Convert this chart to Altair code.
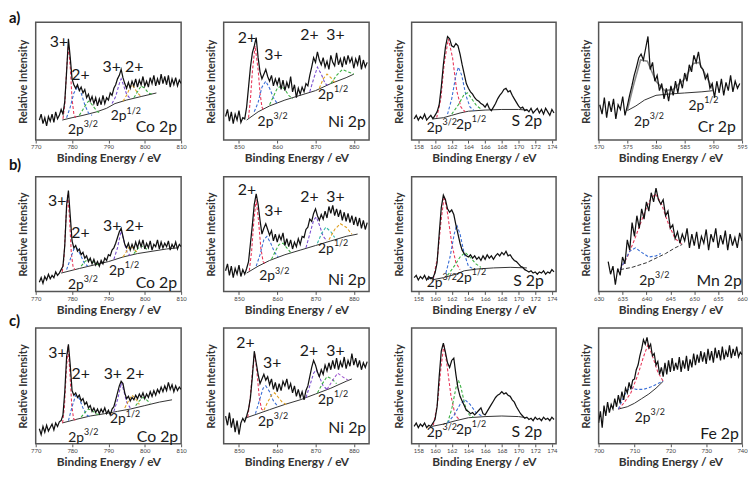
import altair as alt
import pandas as pd

FONT = "Lato"

# ---------------- row a ----------------
# Co 2p (a)
a_co_y = [17, 22, 14, 19, 12, 20, 16, 22, 15, 24, 18, 21, 26, 22, 33, 58, 86, 70, 52, 47,
          44, 47, 42, 45, 40, 43, 36, 39, 33, 37, 31, 36, 29, 35, 30, 38, 31, 36, 34, 40,
          38, 44, 47, 52, 55, 60, 53, 48, 44, 49, 44, 50, 46, 52, 45, 51, 47, 54, 46, 50,
          45, 53, 48, 55, 46, 52, 47, 56, 48, 54, 47, 55, 45, 52, 47, 53, 46, 51, 48]
a_co_bg = [(777.3, 17), (780, 19), (783, 21), (786.8, 24), (789.5, 27), (791.8, 31),
           (795, 34), (799, 37), (803.2, 40)]
a_co_fit = [
    ("#e8375a", [(777.5, 18), (778, 30), (778.5, 60), (779, 80), (779.5, 62), (780, 35), (780.5, 22), (781, 19)]),
    ("#3b6fd6", [(778.5, 19), (779.5, 28), (780.5, 40), (781.5, 45), (782.5, 40), (783.5, 30), (784.5, 23), (785.5, 21)]),
    ("#3cb043", [(782, 21), (783, 26), (784, 31), (784.5, 33), (785, 32), (786, 28), (787, 24), (788, 23)]),
    ("#7b4fd0", [(791, 31), (792, 37), (793, 48), (793.5, 52), (794, 48), (795, 39), (796, 35)]),
    ("#e0a020", [(794, 33), (795, 38), (796, 45), (796.5, 47), (797, 45), (798, 40), (799, 37)]),
    ("#3cb043", [(797, 36), (798, 41), (799, 46), (800, 44), (801, 40), (802, 39)]),
]
a_co_txt = [("3+", 776.4, 83), ("2+", 782.3, 55), ("3+ 2+", 794, 62), ("Co 2p", 803.2, 11)]
a_co_orb = [("3/2", 783.2, 8.5), ("1/2", 795, 20)]

# Ni 2p (a)
a_ni_y = [20, 26, 16, 24, 14, 22, 17, 25, 15, 19, 18, 28, 45, 62, 74, 80, 87, 70, 58, 52,
          56, 60, 54, 50, 55, 46, 52, 47, 53, 43, 51, 42, 49, 44, 54, 41, 47, 36, 44, 39,
          45, 41, 48, 46, 55, 62, 70, 66, 75, 68, 64, 70, 62, 67, 60, 72, 66, 63, 74, 64,
          69, 62, 71, 64, 72, 66, 70, 61, 69, 64, 72, 60, 68, 62, 66]
a_ni_bg = [(852, 17), (855, 24), (858, 29), (862, 34), (866, 38), (870, 42), (874, 48),
           (878, 53), (880, 56)]
a_ni_fit = [
    ("#e8375a", [(852.5, 19), (853, 35), (853.5, 58), (854.2, 80), (855, 60), (855.5, 40), (856, 28), (856.5, 25)]),
    ("#3b6fd6", [(854, 24), (855, 32), (856, 45), (857, 50), (858, 44), (859, 36), (860, 31)]),
    ("#3cb043", [(858, 30), (859, 37), (860, 44), (861, 46), (862, 43), (863, 38), (864, 35)]),
    ("#7b4fd0", [(868.5, 41), (869.5, 52), (870.5, 62), (871.5, 56), (872.5, 48), (873.5, 46)]),
    ("#e0a020", [(871, 44), (872, 52), (873, 56), (874, 53), (875, 49)]),
    ("#3cb043", [(874, 48), (875.5, 55), (877, 60), (878.5, 58), (880, 56)]),
]
a_ni_txt = [("2+", 852.1, 87), ("3+", 859, 72), ("2+", 868.4, 89), ("3+", 875.2, 89), ("Ni 2p", 878.2, 15.5)]
a_ni_orb = [("3/2", 859, 15.5), ("1/2", 874.8, 38)]

# S 2p (a)
a_s_y = [18, 21, 17, 20, 18, 22, 17, 19, 21, 18, 21, 24, 30, 45, 64, 79, 88, 86, 80, 79,
         82, 80, 73, 64, 56, 48, 44, 41, 39, 36, 34, 33, 31, 30, 28, 31, 27, 25, 28, 31,
         35, 38, 40, 43, 44, 41, 42, 38, 35, 32, 29, 27, 28, 25, 26, 24, 27, 23, 25, 27,
         23, 26, 22, 27, 24, 21, 26, 23]
a_s_bg = [(159.8, 18), (161, 19), (162, 21), (163, 23), (164, 24.5), (166, 25.5), (168, 26),
          (170, 26), (171, 25.5)]
a_s_fit = [
    ("#e8375a", [(160.2, 19), (160.7, 35), (161.1, 65), (161.6, 86), (162.1, 70), (162.6, 42), (163.1, 28), (163.6, 24)]),
    ("#3b6fd6", [(161.5, 22), (162, 35), (162.5, 55), (162.8, 62), (163.2, 55), (163.7, 38), (164.2, 28), (164.7, 25)]),
    ("#3cb043", [(162, 22), (162.8, 30), (163.5, 39), (163.9, 40), (164.4, 35), (165, 29), (165.6, 26)]),
]
a_s_txt = [("S 2p", 171, 16)]
a_s_orb = [("3/2", 160.9, 10), ("1/2", 164.4, 13)]

# Cr 2p (a)
a_cr_y = [30, 22, 36, 19, 33, 24, 35, 18, 30, 26, 37, 21, 29, 38, 46, 55, 62, 70, 73, 68,
          78, 88, 60, 66, 50, 55, 42, 48, 35, 44, 33, 46, 38, 50, 40, 52, 44, 57, 50, 64,
          58, 72, 66, 75, 62, 60, 52, 56, 44, 48, 36, 50, 40, 52, 38, 49, 42, 55, 41, 50,
          44, 48]
a_cr_bg = [(575, 25), (576.5, 29), (578, 34), (580, 38), (582, 39), (585, 40), (588, 41), (590, 42)]
a_cr_env = [(575, 25), (576, 45), (577.3, 68), (578.5, 67), (580, 50), (581.5, 42), (583, 43),
            (585, 52), (586.5, 65), (587.5, 66), (589, 52), (590, 42)]
a_cr_txt = [("Cr 2p", 590.6, 11)]
a_cr_orb = [("3/2", 578.9, 15.5), ("1/2", 588.4, 29)]

# ---------------- row b ----------------
# Co 2p (b)
b_co_y = [8, 12, 7, 13, 10, 15, 11, 14, 12, 17, 14, 16, 19, 22, 40, 75, 88, 66, 44, 38,
          40, 35, 37, 32, 34, 29, 31, 26, 29, 24, 28, 23, 26, 22, 27, 24, 29, 27, 32, 31,
          36, 38, 42, 47, 52, 55, 48, 41, 38, 42, 36, 41, 37, 43, 38, 44, 39, 45, 37, 42,
          38, 44, 36, 41, 39, 45, 37, 43, 38, 42, 39, 44, 36, 41, 38, 43, 37, 41, 39]
b_co_bg = [(777, 16), (782, 20), (786, 23), (790, 26), (794, 30), (798, 33), (802, 35),
           (806, 37), (809, 38)]
b_co_fit = [
    ("#e8375a", [(777.3, 17), (777.8, 30), (778.3, 62), (778.8, 85), (779.3, 64), (779.8, 33), (780.3, 21), (780.8, 19)]),
    ("#3b6fd6", [(778.5, 19), (779.5, 28), (780.5, 37), (781.3, 38), (782.3, 32), (783.3, 25), (784.3, 22)]),
    ("#3cb043", [(782.5, 22), (783.5, 26), (784.5, 28), (785.5, 27), (786.5, 24), (787.5, 23)]),
    ("#7b4fd0", [(791.5, 28), (792.5, 38), (793.5, 53), (794.2, 45), (795, 35), (796, 31)]),
    ("#e0a020", [(794, 30), (795, 35), (796, 40), (797, 37), (798, 34)]),
    ("#3cb043", [(797, 33), (798, 37), (799, 40), (800, 38), (801, 36)]),
]
b_co_txt = [("3+", 775.9, 79), ("2+", 782.3, 51), ("3+ 2+", 794.1, 57), ("Co 2p", 803.2, 7.5)]
b_co_orb = [("3/2", 783.2, 6), ("1/2", 794.5, 18)]

# Ni 2p (b)
b_ni_y = [18, 24, 14, 22, 12, 20, 15, 23, 13, 19, 15, 20, 26, 42, 58, 76, 85, 76, 62, 50,
          55, 59, 54, 49, 53, 44, 50, 43, 49, 45, 51, 40, 46, 39, 45, 37, 43, 39, 46, 41,
          48, 47, 54, 56, 63, 61, 68, 72, 66, 62, 67, 63, 70, 64, 74, 68, 75, 66, 72, 65,
          71, 62, 69, 61, 68, 60, 66, 58, 65, 57, 64, 55, 62, 54, 60]
b_ni_bg = [(852, 16), (855, 22), (858, 27), (862, 32), (866, 36), (870, 40), (874, 44),
           (878, 48), (881, 50)]
b_ni_fit = [
    ("#e8375a", [(852.7, 18), (853.3, 35), (853.9, 62), (854.5, 80), (855.1, 62), (855.7, 38), (856.3, 26), (856.9, 24)]),
    ("#3b6fd6", [(854.5, 22), (855.5, 32), (856.5, 45), (857.3, 48), (858.3, 42), (859.3, 34), (860.3, 30)]),
    ("#3cb043", [(858.5, 28), (859.5, 35), (860.5, 41), (861.5, 42), (862.5, 38), (863.5, 34)]),
    ("#7b4fd0", [(867.5, 38), (868.5, 50), (869.5, 62), (870.2, 65), (871, 58), (872, 48), (873, 44)]),
    ("#35b8a8", [(870.5, 42), (871.5, 50), (872.7, 56), (874, 52), (875, 47)]),
    ("#e0a020", [(873.5, 45), (875, 54), (876.5, 59), (878, 56), (879.5, 50)]),
]
b_ni_txt = [("2+", 852.1, 88), ("3+", 859, 70), ("2+", 868.4, 82), ("3+", 875.2, 82), ("Ni 2p", 878.2, 10)]
b_ni_orb = [("3/2", 859.4, 13), ("1/2", 874.8, 37)]

# S 2p (b)
b_s_y = [12, 14, 10, 13, 11, 14, 10, 13, 11, 12, 16, 25, 50, 73, 84, 80, 72, 69, 71, 67,
         58, 50, 42, 36, 33, 31, 30, 32, 29, 31, 28, 30, 27, 31, 28, 32, 29, 31, 28, 31,
         33, 31, 34, 32, 35, 31, 32, 29, 27, 26, 24, 22, 21, 19, 18, 17, 18, 16, 17, 15,
         17, 16, 18, 15, 17, 16, 19, 17]
b_s_bg = [(159.6, 10), (161, 12), (162.5, 15), (163.5, 18), (165, 19.5), (167, 20.5),
          (169, 21), (171, 20.5)]
b_s_fit = [
    ("#e8375a", [(159.8, 11), (160.3, 30), (160.7, 60), (161.1, 83), (161.5, 68), (162, 42), (162.5, 25), (163, 19)]),
    ("#3b6fd6", [(161.3, 16), (161.8, 30), (162.3, 50), (162.6, 58), (163, 50), (163.5, 33), (164, 22), (164.5, 20)]),
    ("#3cb043", [(161.5, 14), (162.3, 22), (163, 30), (163.6, 34), (164.2, 30), (164.9, 24), (165.5, 21)]),
]
b_s_txt = [("S 2p", 171.2, 9)]
b_s_orb = [("3/2", 160.9, 7.5), ("1/2", 164.4, 12)]

# Mn 2p (b)
b_mn_y = [26, 15, 22, 6, 20, 14, 30, 24, 45, 36, 60, 48, 66, 55, 72, 63, 78, 70, 86, 78,
          90, 80, 76, 80, 66, 70, 55, 58, 46, 52, 42, 50, 44, 55, 38, 50, 40, 52, 37, 48,
          42, 54, 36, 50, 43, 55, 38, 49, 41, 53, 36, 50, 40, 47, 38, 51, 44]
b_mn_bg = [(634.5, 19), (637, 21), (640, 25), (642, 29), (644, 33), (646, 38), (647.5, 41)]
b_mn_fit = [
    ("#e8375a", [(634.5, 19), (636, 30), (637.5, 45), (639, 62), (640.5, 78), (641.8, 85), (643, 78), (644.5, 60), (646, 46), (647.5, 41)]),
    ("#3b6fd6", [(634.5, 19), (635.5, 27), (636.5, 35), (637.7, 38), (639, 34), (640.5, 30), (642, 31), (643, 33)]),
]
b_mn_txt = [("Mn 2p", 655.2, 9)]
b_mn_orb = [("3/2", 641.8, 9)]

# ---------------- row c ----------------
# Co 2p (c)
c_co_y = [13, 8, 15, 10, 16, 11, 14, 17, 12, 18, 15, 19, 20, 25, 45, 75, 86, 68, 46, 42,
          44, 40, 42, 37, 39, 34, 36, 31, 33, 28, 31, 27, 30, 26, 30, 27, 31, 26, 29, 25,
          30, 32, 38, 44, 50, 54, 52, 44, 39, 41, 37, 40, 38, 42, 39, 43, 40, 44, 39, 43,
          40, 45, 41, 46, 42, 47, 44, 49, 45, 50, 46, 53, 47, 51, 45, 50, 46, 49, 47]
c_co_bg = [(777.3, 18), (781, 21), (785, 24), (789, 26), (792.5, 28), (796, 30), (800, 33),
           (804, 36), (807.5, 38)]
c_co_fit = [
    ("#e8375a", [(777.4, 18), (777.9, 32), (778.4, 62), (778.9, 84), (779.4, 62), (779.9, 34), (780.4, 22), (780.9, 20)]),
    ("#3b6fd6", [(779, 20), (780, 32), (781, 42), (782, 39), (783, 31), (784, 25), (785, 23)]),
    ("#3cb043", [(782.5, 23), (783.5, 27), (784.5, 30), (785.5, 29), (786.5, 26), (787.5, 25)]),
    ("#7b4fd0", [(791.5, 28), (792.5, 38), (793.6, 53), (794.3, 45), (795, 36), (796, 31)]),
    ("#e0a020", [(794.5, 31), (795.5, 37), (796.5, 42), (797.5, 39), (798.5, 34)]),
    ("#3cb043", [(797.5, 33), (798.5, 37), (799.5, 40), (800.5, 38), (801.5, 35)]),
]
c_co_txt = [("3+", 776, 78), ("2+", 782.4, 60), ("3+ 2+", 794.3, 60), ("Co 2p", 803.5, 6)]
c_co_orb = [("3/2", 783.3, 5), ("1/2", 794.8, 21)]

# Ni 2p (c)
c_ni_y = [24, 16, 27, 14, 22, 10, 20, 8, 18, 22, 19, 24, 30, 40, 58, 80, 70, 60, 52, 56,
          60, 55, 58, 51, 56, 47, 53, 45, 52, 46, 54, 50, 56, 47, 52, 44, 50, 41, 47, 40,
          45, 38, 46, 50, 58, 66, 72, 68, 62, 58, 64, 60, 68, 63, 70, 64, 72, 65, 74, 64,
          71, 66, 75, 65, 72, 67, 78, 68, 74, 66, 72, 64, 70, 66, 71]
c_ni_bg = [(851.5, 22), (855, 26), (858, 29.5), (862, 34), (866, 38), (870, 43), (874, 48),
           (878, 54), (879.5, 56)]
c_ni_fit = [
    ("#e8375a", [(852.3, 23), (852.9, 38), (853.5, 62), (854.1, 78), (854.7, 62), (855.3, 40), (855.9, 30), (856.5, 28)]),
    ("#3b6fd6", [(854.3, 26), (855.3, 37), (856.3, 48), (857, 50), (858, 45), (859, 37), (860, 33)]),
    ("#e0a020", [(856.5, 29), (857.5, 36), (858.5, 42), (859.3, 44), (860.3, 40), (861.3, 36), (862.3, 34)]),
    ("#7b4fd0", [(867.5, 40), (868.5, 50), (869.5, 61), (870.2, 64), (871, 58), (872, 50), (873, 47)]),
    ("#3cb043", [(870.5, 44), (871.8, 52), (873, 58), (874.3, 56), (875.5, 52)]),
    ("#a05ad0", [(873, 47), (874.5, 55), (875.8, 61), (877, 58), (878.5, 55)]),
]
c_ni_txt = [("2+", 851.7, 87), ("3+", 858.7, 70), ("2+", 868.3, 80), ("3+", 875.2, 80), ("Ni 2p", 878.3, 14)]
c_ni_orb = [("3/2", 859.1, 19), ("1/2", 874.8, 38)]

# S 2p (c)
c_s_y = [15, 18, 14, 17, 15, 18, 14, 16, 15, 18, 21, 32, 58, 80, 87, 79, 70, 66, 72, 74,
         60, 48, 41, 37, 33, 29, 28, 26, 27, 25, 27, 29, 31, 26, 25, 28, 31, 34, 37, 40,
         42, 43, 45, 43, 44, 42, 41, 38, 36, 32, 29, 26, 24, 22, 23, 21, 22, 20, 23, 21,
         22, 20, 23, 21, 22, 20, 23, 21]
c_s_bg = [(159.6, 15), (161, 17), (162.5, 20), (164, 22.5), (166, 23.5), (168, 24), (170, 23.5),
          (171, 22.5)]
c_s_fit = [
    ("#e8375a", [(159.8, 16), (160.3, 35), (160.7, 65), (161.05, 85), (161.4, 70), (161.9, 42), (162.4, 25), (162.9, 21)]),
    ("#3cb043", [(161.5, 18), (162, 30), (162.5, 48), (162.8, 55), (163.1, 49), (163.6, 33), (164.1, 25), (164.6, 23)]),
    ("#3b6fd6", [(161.5, 18), (162.3, 25), (163, 34), (163.6, 38), (164.2, 34), (164.9, 27), (165.6, 24)]),
]
c_s_txt = [("S 2p", 171, 10)]
c_s_orb = [("3/2", 160.9, 9), ("1/2", 164.4, 12)]

# Fe 2p (c)
c_fe_y = [18, 28, 14, 33, 24, 36, 27, 34, 30, 39, 32, 42, 35, 45, 38, 48, 44, 53, 47, 55,
          56, 64, 68, 76, 82, 90, 86, 92, 83, 86, 76, 78, 68, 71, 60, 66, 58, 70, 60, 72,
          62, 74, 63, 70, 64, 75, 62, 72, 65, 76, 63, 73, 66, 78, 68, 77, 70, 80, 71, 79,
          69, 82, 72, 80, 70, 83, 74, 81, 72, 84, 73, 80, 75, 85, 74, 82, 76, 84, 75, 79, 77]
c_fe_bg = [(705.5, 30), (708, 32), (710, 35), (712, 39), (714, 43), (716, 48), (718, 54)]
c_fe_fit = [
    ("#e8375a", [(705.5, 30), (707, 35), (709, 44), (711, 60), (712.5, 75), (713.8, 86), (715, 76), (716.5, 62), (718, 54)]),
    ("#3b6fd6", [(705.5, 30), (706.5, 37), (707.7, 45), (708.9, 49), (710.5, 47), (712.5, 47), (714.5, 49), (716.5, 52), (718, 54)]),
]
c_fe_txt = [("Fe 2p", 733.7, 8)]
c_fe_orb = [("3/2", 714.5, 22)]

CO_TICKS = [770, 780, 790, 800, 810]
NI_TICKS = [850, 860, 870, 880]
S_TICKS = [158, 160, 162, 164, 166, 168, 170, 172, 174]


def pts(pairs):
    return pd.DataFrame({"e": [p[0] for p in pairs], "v": [p[1] for p in pairs]})


def panel(x0, dx, ys, bg, fit, txt, orb, dom, ticks, w, h,
          tag=None, tag_y=0, env=None, bg_dash=None):
    spec = pd.DataFrame({"e": [round(x0 + i * dx, 2) for i in range(len(ys))], "v": ys})
    X = alt.X("e:Q", scale=alt.Scale(domain=dom, nice=False, zero=False),
              axis=alt.Axis(values=ticks, format="d", title="Binding Energy / eV",
                            labelFontSize=6, labelPadding=1, tickSize=3, titlePadding=3))
    Y = alt.Y("v:Q", scale=alt.Scale(domain=[0, 100], nice=False),
              axis=alt.Axis(title="Relative Intensity", labels=False, ticks=False,
                            titlePadding=7, titleFontSize=11))

    rows = []
    for k, (col, p) in enumerate(fit):
        for e, v in p:
            rows.append({"e": e, "v": v, "c": col, "k": k})
    fit_df = pd.DataFrame(rows)

    bg_kw = {"strokeDash": bg_dash} if bg_dash else {}
    layers = [
        alt.Chart(pts(bg)).mark_line(color="#333", strokeWidth=1, clip=True, **bg_kw)
        .encode(x=X, y=Y),
    ]
    if len(fit_df):
        layers.append(
            alt.Chart(fit_df).mark_line(strokeWidth=1.1, strokeDash=[3, 2], clip=True)
            .encode(x=X, y=Y, color=alt.Color("c:N", scale=None), detail="k:N")
        )
    if env:
        layers.append(alt.Chart(pts(env)).mark_line(color="#8a8a8a", strokeWidth=1.6, clip=True)
                      .encode(x=X, y=Y))
    layers.append(alt.Chart(spec).mark_line(color="#111", strokeWidth=1.25, clip=True)
                  .encode(x=X, y=Y))

    tdf = pd.DataFrame({"e": [t[1] for t in txt], "v": [t[2] for t in txt],
                        "t": [t[0] for t in txt]})
    layers.append(alt.Chart(tdf).mark_text(font=FONT, fontSize=16, color="#1a1a1a")
                  .encode(x=X, y=Y, text="t:N"))

    odf = pd.DataFrame({"e": [o[1] for o in orb], "v": [o[2] for o in orb],
                        "s": [o[0] for o in orb], "b": ["2p"] * len(orb)})
    layers.append(alt.Chart(odf).mark_text(font=FONT, fontSize=14, color="#1a1a1a",
                                           align="right")
                  .encode(x=X, y=Y, text="b:N"))
    layers.append(alt.Chart(odf).mark_text(font=FONT, fontSize=9, color="#1a1a1a",
                                           align="left", dy=-6)
                  .encode(x=X, y=Y, text="s:N"))

    if tag:
        layers.append(alt.Chart(pd.DataFrame({"t": [tag]}))
                      .mark_text(font=FONT, fontSize=15, fontWeight="bold", align="left",
                                 color="#111")
                      .encode(x=alt.value(-27), y=alt.value(tag_y), text="t:N"))

    return alt.layer(*layers).properties(width=w, height=h)


W = [147, 147, 146, 145]
H = [119, 116, 117]

panels = [
    panel(771, 0.5, a_co_y, a_co_bg, a_co_fit, a_co_txt, a_co_orb, [770, 810], CO_TICKS, W[0], H[0], tag="a)", tag_y=-4),
    panel(846.5, 0.5, a_ni_y, a_ni_bg, a_ni_fit, a_ni_txt, a_ni_orb, [846, 884], NI_TICKS, W[1], H[0]),
    panel(157.5, 0.25, a_s_y, a_s_bg, a_s_fit, a_s_txt, a_s_orb, [157.2, 174.5], S_TICKS, W[2], H[0]),
    panel(570.2, 0.4, a_cr_y, a_cr_bg, [], a_cr_txt, a_cr_orb, [570, 595], [570, 575, 580, 585, 590, 595], W[3], H[0], env=a_cr_env),

    panel(771, 0.5, b_co_y, b_co_bg, b_co_fit, b_co_txt, b_co_orb, [770, 810], CO_TICKS, W[0], H[1], tag="b)", tag_y=-12),
    panel(846.5, 0.5, b_ni_y, b_ni_bg, b_ni_fit, b_ni_txt, b_ni_orb, [846, 884], NI_TICKS, W[1], H[1]),
    panel(157.5, 0.25, b_s_y, b_s_bg, b_s_fit, b_s_txt, b_s_orb, [157.2, 174.5], S_TICKS, W[2], H[1]),
    panel(632, 0.5, b_mn_y, b_mn_bg, b_mn_fit, b_mn_txt, b_mn_orb, [630, 660], [630, 635, 640, 645, 650, 655, 660], W[3], H[1], bg_dash=[4, 2]),

    panel(771, 0.5, c_co_y, c_co_bg, c_co_fit, c_co_txt, c_co_orb, [770, 810], CO_TICKS, W[0], H[2], tag="c)", tag_y=-7),
    panel(846.5, 0.5, c_ni_y, c_ni_bg, c_ni_fit, c_ni_txt, c_ni_orb, [846, 884], NI_TICKS, W[1], H[2]),
    panel(157.5, 0.25, c_s_y, c_s_bg, c_s_fit, c_s_txt, c_s_orb, [157.2, 174.5], S_TICKS, W[2], H[2]),
    panel(700, 0.5, c_fe_y, c_fe_bg, c_fe_fit, c_fe_txt, c_fe_orb, [700, 740], [700, 710, 720, 730, 740], W[3], H[2]),
]

chart = (
    alt.concat(*panels, columns=4, spacing={"row": 37, "column": 43}, bounds="flush")
    .properties(padding={"left": 0, "top": 0, "right": 0, "bottom": 0}, background="white")
    .configure_view(stroke="#555", strokeWidth=1.5)
    .configure_axis(grid=False, domain=False, labelFont=FONT, titleFont=FONT,
                    labelColor="#444", tickColor="#555", titleFontSize=12,
                    titleFontWeight="bold", titleColor="#333",
                    labelFlush=False, labelOverlap=False)
)

chart.save("out.html", embed_options={"renderer": "svg", "actions": False})
